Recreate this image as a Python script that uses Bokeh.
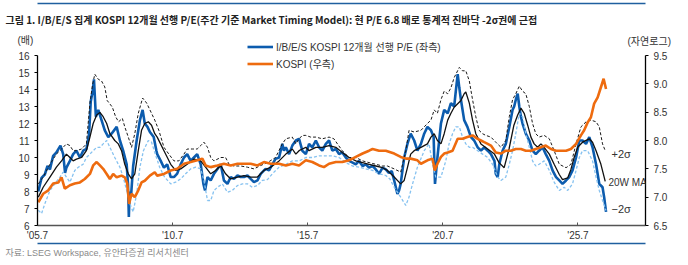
from bokeh.plotting import figure
from bokeh.models import (Range1d, LinearAxis, FixedTicker, PrintfTickFormatter,
                          Label, Legend, LegendItem)
from bokeh.embed import file_html
from bokeh.resources import INLINE

# Weekly-sampled I/B/E/S KOSPI 12M forward P/E (x), decimal years
pe_year = [2005.53, 2005.65, 2005.77, 2005.87, 2005.96, 2006.08, 2006.20, 2006.35, 2006.45, 2006.52,
           2006.57, 2006.70, 2006.82, 2006.94, 2007.07, 2007.19, 2007.31, 2007.41, 2007.47, 2007.54,
           2007.59, 2007.66, 2007.75, 2007.87, 2007.99, 2008.12, 2008.24, 2008.43, 2008.55, 2008.67,
           2008.80, 2008.85, 2008.88, 2008.91, 2008.96, 2009.04, 2009.17, 2009.29, 2009.39, 2009.47,
           2009.57, 2009.66, 2009.80, 2009.90, 2009.93, 2010.06, 2010.18, 2010.30, 2010.43, 2010.55,
           2010.67, 2010.80, 2010.92, 2011.04, 2011.17, 2011.29, 2011.41, 2011.54, 2011.64, 2011.70,
           2011.79, 2011.91, 2012.03, 2012.16, 2012.28, 2012.40, 2012.53, 2012.65, 2012.77, 2012.90,
           2013.02, 2013.14, 2013.27, 2013.39, 2013.51, 2013.64, 2013.76, 2013.94, 2014.07, 2014.19,
           2014.31, 2014.44, 2014.56, 2014.62, 2014.69, 2014.81, 2014.93, 2015.06, 2015.18, 2015.30,
           2015.43, 2015.55, 2015.67, 2015.80, 2015.92, 2016.04, 2016.17, 2016.29, 2016.41, 2016.54,
           2016.66, 2016.78, 2016.91, 2017.03, 2017.16, 2017.28, 2017.40, 2017.53, 2017.65, 2017.77,
           2017.90, 2018.02, 2018.14, 2018.27, 2018.39, 2018.50, 2018.61, 2018.70, 2018.82, 2018.88,
           2018.94, 2019.07, 2019.19, 2019.31, 2019.44, 2019.56, 2019.69, 2019.81, 2019.93, 2020.06,
           2020.16, 2020.21, 2020.30, 2020.43, 2020.55, 2020.68, 2020.80, 2020.92, 2020.98, 2021.05,
           2021.11, 2021.17, 2021.29, 2021.41, 2021.54, 2021.66, 2021.79, 2021.91, 2022.03, 2022.16,
           2022.28, 2022.41, 2022.46, 2022.53, 2022.59, 2022.71, 2022.83, 2022.96, 2023.08, 2023.14,
           2023.20, 2023.27, 2023.33, 2023.39, 2023.45, 2023.57, 2023.70, 2023.82, 2023.94, 2024.06,
           2024.19, 2024.31, 2024.44, 2024.56, 2024.69, 2024.81, 2024.93, 2025.06, 2025.18, 2025.30,
           2025.43, 2025.55, 2025.67, 2025.80, 2025.92, 2026.04, 2026.17, 2026.29, 2026.41, 2026.47,
           2026.54]
pe_val = [8.0, 8.8, 9.0, 9.5, 9.3, 10.1, 10.3, 10.7, 10.2, 9.1,
          9.4, 9.8, 10.2, 10.4, 10.0, 10.4, 10.5, 11.4, 13.3, 13.9,
          14.6, 12.4, 12.8, 12.2, 11.6, 11.2, 11.4, 11.8, 11.0, 10.4,
          9.6, 8.4, 6.5, 8.0, 7.7, 9.5, 11.0, 12.2, 12.8, 12.0,
          11.8, 11.5, 11.2, 10.4, 10.2, 9.8, 9.4, 9.6, 8.85, 8.85,
          9.05, 9.6, 10.0, 10.2, 9.8, 10.0, 10.2, 9.6, 8.45, 8.06,
          8.85, 8.65, 9.04, 9.33, 9.6, 8.65, 8.45, 8.85, 8.74, 8.94,
          8.85, 8.85, 8.94, 8.74, 8.55, 8.65, 9.04, 9.33, 9.24, 9.6,
          9.92, 10.0, 10.8, 10.4, 10.6, 10.2, 10.7, 11.0, 11.1, 10.4,
          10.2, 10.8, 10.6, 11.0, 10.6, 10.4, 10.8, 11.0, 10.4, 10.5,
          10.2, 10.3, 10.0, 9.8, 9.7, 9.6, 9.8, 9.5, 9.6, 9.4,
          9.5, 9.3, 9.04, 9.4, 9.3, 9.1, 9.2, 8.65, 7.86, 8.06,
          8.45, 10.0, 10.8, 11.4, 11.0, 10.4, 10.8, 11.4, 11.8, 11.6,
          11.2, 8.45, 10.0, 12.0, 12.8, 12.6, 13.2, 13.0, 13.9, 14.9,
          14.1, 13.4, 12.2, 11.8, 11.2, 11.0, 10.6, 10.4, 10.6, 10.4,
          10.2, 9.8, 9.04, 8.85, 9.6, 10.4, 10.8, 11.8, 12.8, 13.0,
          13.4, 13.75, 13.0, 12.4, 12.0, 11.4, 11.0, 10.4, 10.2, 10.4,
          10.6, 10.2, 9.8, 9.24, 8.85, 8.65, 8.45, 8.65, 8.85, 9.24,
          10.0, 11.0, 11.0, 10.8, 11.2, 10.6, 9.6, 8.45, 8.25, 7.67,
          6.8]

# 20-week moving average of the P/E
ma_year = [2005.53, 2005.71, 2005.96, 2006.20, 2006.39, 2006.57, 2006.70, 2006.82, 2006.94, 2007.13,
           2007.31, 2007.44, 2007.56, 2007.69, 2007.81, 2007.93, 2008.06, 2008.18, 2008.36, 2008.49,
           2008.61, 2008.73, 2008.86, 2008.98, 2009.10, 2009.23, 2009.35, 2009.47, 2009.60, 2009.72,
           2009.84, 2009.93, 2010.18, 2010.43, 2010.61, 2010.80, 2011.04, 2011.29, 2011.54, 2011.72,
           2011.91, 2012.09, 2012.28, 2012.46, 2012.65, 2012.90, 2013.14, 2013.39, 2013.64, 2013.88,
           2014.13, 2014.44, 2014.69, 2014.93, 2015.06, 2015.18, 2015.30, 2015.43, 2015.55, 2015.80,
           2016.04, 2016.29, 2016.54, 2016.78, 2017.03, 2017.28, 2017.53, 2017.77, 2018.02, 2018.27,
           2018.45, 2018.70, 2018.94, 2019.07, 2019.19, 2019.31, 2019.44, 2019.69, 2019.93, 2020.06,
           2020.18, 2020.30, 2020.43, 2020.55, 2020.68, 2020.80, 2020.92, 2021.17, 2021.29, 2021.35,
           2021.48, 2021.60, 2021.72, 2021.91, 2022.16, 2022.41, 2022.58, 2022.77, 2022.95, 2023.13,
           2023.27, 2023.39, 2023.51, 2023.64, 2023.76, 2023.88, 2024.01, 2024.13, 2024.25, 2024.44,
           2024.62, 2024.81, 2024.93, 2025.12, 2025.24, 2025.36, 2025.49, 2025.67, 2025.92, 2026.04,
           2026.17, 2026.35, 2026.51]
ma_val = [7.67, 8.25, 8.85, 9.43, 9.8, 10.2, 10.0, 9.8, 9.9, 10.0,
          10.4, 11.2, 12.0, 12.5, 12.65, 12.4, 12.0, 11.4, 11.0, 10.8,
          10.4, 9.6, 9.04, 8.74, 9.04, 10.4, 11.6, 12.0, 12.1, 11.9,
          11.4, 11.2, 10.4, 9.6, 9.24, 9.33, 9.6, 9.9, 9.8, 9.43,
          9.04, 9.24, 9.53, 9.04, 8.74, 8.85, 8.94, 8.85, 8.85, 9.24,
          9.43, 9.8, 10.2, 10.5, 10.2, 10.4, 10.5, 10.6, 10.4, 10.6,
          10.6, 10.7, 10.6, 10.3, 10.0, 9.8, 9.7, 9.6, 9.5, 9.4,
          9.24, 8.85, 8.45, 8.65, 9.4, 10.2, 10.4, 10.6, 10.8, 11.2,
          11.4, 11.0, 10.8, 11.4, 12.2, 12.6, 12.96, 13.35, 13.75, 13.85,
          13.2, 12.2, 11.4, 10.8, 10.5, 10.2, 9.7, 9.4, 10.5, 11.9,
          12.5, 12.9, 12.6, 11.9, 11.2, 10.8, 10.6, 10.8, 10.6, 10.2,
          9.6, 9.0, 8.7, 8.8, 9.3, 10.0, 10.6, 10.9, 11.1, 10.9,
          10.4, 9.6, 8.6]

# Upper band: 20W MA + 2 sigma
up_year = [2005.53, 2005.71, 2005.96, 2006.20, 2006.39, 2006.57, 2006.70, 2006.82, 2006.94, 2007.13,
           2007.31, 2007.44, 2007.54, 2007.62, 2007.75, 2007.87, 2007.99, 2008.08, 2008.13, 2008.27,
           2008.39, 2008.50, 2008.64, 2008.73, 2008.86, 2008.98, 2009.10, 2009.23, 2009.39, 2009.54,
           2009.72, 2009.84, 2009.99, 2010.18, 2010.36, 2010.55, 2010.73, 2010.92, 2011.04, 2011.23,
           2011.41, 2011.54, 2011.66, 2011.79, 2011.91, 2012.03, 2012.28, 2012.46, 2012.59, 2012.77,
           2013.02, 2013.27, 2013.51, 2013.76, 2014.01, 2014.31, 2014.56, 2014.69, 2014.93, 2015.06,
           2015.18, 2015.30, 2015.43, 2015.61, 2015.80, 2016.04, 2016.29, 2016.47, 2016.60, 2016.78,
           2017.03, 2017.28, 2017.53, 2017.77, 2018.02, 2018.27, 2018.45, 2018.70, 2018.94, 2019.13,
           2019.25, 2019.44, 2019.69, 2019.93, 2020.06, 2020.18, 2020.30, 2020.43, 2020.55, 2020.68,
           2020.80, 2020.92, 2021.11, 2021.23, 2021.35, 2021.48, 2021.60, 2021.72, 2021.84, 2021.97,
           2022.09, 2022.28, 2022.46, 2022.65, 2022.83, 2022.96, 2023.08, 2023.20, 2023.33, 2023.45,
           2023.57, 2023.70, 2023.82, 2023.94, 2024.06, 2024.25, 2024.44, 2024.62, 2024.81, 2025.06,
           2025.24, 2025.43, 2025.61, 2025.80, 2025.98, 2026.17, 2026.29, 2026.41, 2026.51]
up_val = [8.45, 8.85, 9.6, 10.2, 10.5, 10.8, 10.7, 10.4, 10.4, 10.5,
          10.8, 13.2, 14.3, 14.9, 14.6, 14.5, 14.15, 13.35, 13.25, 12.96,
          12.4, 12.1, 12.3, 11.8, 11.2, 10.6, 11.4, 12.6, 13.5, 13.2,
          12.6, 12.2, 11.6, 10.6, 10.2, 9.8, 9.8, 10.2, 10.5, 10.5,
          10.5, 10.7, 10.9, 10.6, 10.0, 9.8, 10.0, 10.0, 9.6, 9.5,
          9.5, 9.43, 9.33, 9.53, 9.7, 10.0, 10.8, 11.1, 11.2, 10.8,
          11.1, 11.3, 11.3, 11.2, 11.2, 11.1, 11.2, 11.1, 10.8, 10.4,
          10.0, 10.0, 9.8, 9.7, 9.6, 9.5, 9.5, 9.33, 9.14, 10.4,
          11.6, 11.5, 11.6, 12.0, 12.2, 12.8, 12.6, 13.4, 13.9, 13.75,
          14.1, 14.7, 15.3, 15.1, 15.1, 14.5, 13.4, 12.4, 11.6, 11.4,
          11.3, 11.2, 10.9, 10.6, 11.0, 12.4, 13.4, 13.75, 14.2, 13.9,
          13.75, 13.0, 12.0, 11.4, 11.2, 11.3, 11.1, 10.4, 9.6, 9.4,
          9.6, 10.8, 11.8, 12.1, 12.2, 12.1, 11.8, 10.8, 10.4]

# Lower band: 20W MA - 2 sigma
lo_year = [2005.53, 2005.65, 2005.77, 2005.96, 2006.14, 2006.33, 2006.45, 2006.57, 2006.70, 2006.88,
           2007.01, 2007.19, 2007.31, 2007.44, 2007.56, 2007.69, 2007.81, 2007.93, 2008.06, 2008.18,
           2008.36, 2008.55, 2008.67, 2008.80, 2008.92, 2009.04, 2009.17, 2009.29, 2009.42, 2009.60,
           2009.72, 2009.86, 2010.02, 2010.20, 2010.43, 2010.61, 2010.80, 2010.98, 2011.17, 2011.35,
           2011.54, 2011.66, 2011.79, 2011.91, 2012.03, 2012.16, 2012.34, 2012.53, 2012.71, 2012.90,
           2013.08, 2013.27, 2013.45, 2013.64, 2013.82, 2014.01, 2014.19, 2014.44, 2014.69, 2014.93,
           2015.18, 2015.43, 2015.67, 2015.92, 2016.17, 2016.41, 2016.66, 2016.91, 2017.16, 2017.40,
           2017.65, 2017.90, 2018.14, 2018.39, 2018.54, 2018.70, 2018.94, 2019.13, 2019.25, 2019.38,
           2019.56, 2019.81, 2019.99, 2020.12, 2020.24, 2020.43, 2020.61, 2020.73, 2020.86, 2020.98,
           2021.11, 2021.23, 2021.35, 2021.48, 2021.60, 2021.79, 2021.97, 2022.16, 2022.34, 2022.53,
           2022.65, 2022.83, 2022.96, 2023.08, 2023.20, 2023.33, 2023.45, 2023.57, 2023.70, 2023.82,
           2023.94, 2024.06, 2024.25, 2024.44, 2024.62, 2024.81, 2024.99, 2025.12, 2025.30, 2025.43,
           2025.55, 2025.67, 2025.86, 2026.04, 2026.17, 2026.29, 2026.41, 2026.54]
lo_val = [6.9, 6.7, 7.27, 8.06, 8.45, 8.85, 9.14, 8.85, 8.55, 9.24,
          9.43, 9.6, 10.0, 10.2, 10.4, 10.6, 10.6, 10.8, 11.0, 10.6,
          10.0, 9.43, 8.85, 8.06, 7.27, 6.8, 7.86, 9.43, 10.4, 11.0,
          10.9, 10.2, 9.43, 8.85, 8.45, 8.55, 8.74, 9.04, 9.33, 9.43,
          9.33, 8.65, 7.47, 7.47, 8.06, 8.25, 8.45, 7.96, 8.06, 8.35,
          8.45, 8.45, 8.25, 8.35, 8.65, 8.7, 9.04, 9.43, 9.6, 9.8,
          9.8, 10.0, 10.0, 10.1, 10.1, 10.1, 10.0, 9.7, 9.5, 9.43,
          9.33, 9.24, 9.04, 8.94, 8.74, 8.25, 7.67, 7.18, 7.67, 8.45,
          9.43, 10.4, 10.8, 9.6, 8.85, 8.85, 9.8, 10.8, 11.4, 11.8,
          11.8, 11.2, 10.8, 10.6, 10.6, 10.4, 10.2, 10.0, 9.6, 8.85,
          8.65, 8.85, 9.6, 10.4, 11.4, 12.6, 12.4, 11.4, 10.6, 9.8,
          9.5, 9.6, 9.8, 9.24, 8.55, 8.06, 8.25, 8.06, 8.45, 9.24,
          10.0, 10.4, 10.4, 9.8, 8.85, 8.06, 7.47, 6.88]

# KOSPI index, natural log (right axis)
kospi_year = [2005.53, 2005.71, 2005.90, 2006.08, 2006.27, 2006.39, 2006.51, 2006.70, 2006.88, 2007.07,
              2007.25, 2007.44, 2007.56, 2007.69, 2007.81, 2007.93, 2008.06, 2008.18, 2008.30, 2008.43,
              2008.61, 2008.73, 2008.82, 2008.89, 2008.98, 2009.10, 2009.23, 2009.35, 2009.47, 2009.66,
              2009.84, 2009.93, 2010.18, 2010.43, 2010.67, 2010.92, 2011.17, 2011.41, 2011.60, 2011.72,
              2011.91, 2012.16, 2012.40, 2012.65, 2012.90, 2013.14, 2013.39, 2013.64, 2013.88, 2014.13,
              2014.44, 2014.69, 2014.93, 2015.18, 2015.43, 2015.67, 2015.92, 2016.10, 2016.29, 2016.54,
              2016.78, 2017.03, 2017.28, 2017.53, 2017.77, 2017.90, 2018.14, 2018.39, 2018.70, 2018.94,
              2019.13, 2019.31, 2019.56, 2019.69, 2019.93, 2020.12, 2020.20, 2020.30, 2020.43, 2020.55,
              2020.68, 2020.86, 2021.05, 2021.23, 2021.41, 2021.60, 2021.79, 2021.91, 2022.03, 2022.16,
              2022.28, 2022.46, 2022.65, 2022.83, 2023.02, 2023.20, 2023.39, 2023.57, 2023.76, 2023.94,
              2024.13, 2024.31, 2024.50, 2024.69, 2024.87, 2025.06, 2025.24, 2025.43, 2025.61, 2025.73,
              2025.86, 2025.98, 2026.10, 2026.23, 2026.35, 2026.45, 2026.54]
kospi_val = [6.91, 7.06, 7.12, 7.24, 7.26, 7.35, 7.15, 7.21, 7.24, 7.26,
             7.32, 7.41, 7.56, 7.62, 7.56, 7.5, 7.41, 7.32, 7.41, 7.35,
             7.38, 7.35, 7.24, 6.88, 7.06, 7.0, 7.12, 7.26, 7.29, 7.38,
             7.44, 7.38, 7.41, 7.47, 7.5, 7.59, 7.62, 7.65, 7.68, 7.56,
             7.53, 7.56, 7.59, 7.56, 7.59, 7.59, 7.59, 7.56, 7.62, 7.59,
             7.59, 7.56, 7.59, 7.56, 7.65, 7.62, 7.56, 7.53, 7.59, 7.62,
             7.62, 7.65, 7.71, 7.77, 7.82, 7.85, 7.82, 7.82, 7.77, 7.71,
             7.68, 7.68, 7.65, 7.59, 7.65, 7.68, 7.47, 7.59, 7.71, 7.77,
             7.79, 7.82, 8.03, 8.03, 8.06, 8.09, 8.03, 8.0, 7.97, 7.94,
             7.91, 7.79, 7.77, 7.82, 7.82, 7.85, 7.85, 7.82, 7.82, 7.85,
             7.88, 7.91, 7.85, 7.82, 7.82, 7.82, 7.85, 7.94, 8.09, 8.18,
             8.32, 8.41, 8.65, 8.76, 8.94, 9.09, 8.91]

# Axis ticks
x_ticks = [2005.5, 2010.5, 2015.5, 2020.5, 2025.5]
x_tick_labels = ["'05.7", "'10.7", "'15.7", "'20.7", "'25.7"]
pe_ticks = list(range(6, 17))
log_ticks = [6.5, 7.0, 7.5, 8.0, 8.5, 9.0, 9.5]

W, H = 688, 265
# frame edges in canvas pixels; the frame reaches above the 16x gridline so the
# legend has room, while both value axes stop at their top tick
L, R, T, B = 37, 645, 40, 225
Y16_PX = 55
X0, X1 = 2005.5, 2028.0
PX_PER_YEAR = (R - L) / (X1 - X0)
PX_PER_PE = (B - Y16_PX) / (16 - 6)
PX_PER_LOG = (B - Y16_PX) / (9.5 - 6.5)

LATIN = "Liberation Sans"
MIXED = "Liberation Sans, Noto Sans CJK KR"
NARROW = "Liberation Sans Narrow, Noto Sans CJK KR"
TXT = "#333333"
RULE = "#1f5f9f"

p = figure(width=W, height=H, x_range=Range1d(X0, X1),
           y_range=Range1d(6, 16 + (Y16_PX - T) / PX_PER_PE),
           output_backend="svg", toolbar_location=None,
           min_border_left=L, min_border_right=W - R, min_border_top=T, min_border_bottom=H - B,
           x_axis_type=None, y_axis_type=None)
p.outline_line_color = None
p.background_fill_color = "white"
p.border_fill_color = "white"
p.extra_y_ranges = {"log": Range1d(6.5, 9.5 + (Y16_PX - T) / PX_PER_LOG)}

xaxis = LinearAxis(ticker=FixedTicker(ticks=x_ticks),
                   major_label_overrides=dict(zip(x_ticks, x_tick_labels)))
xaxis.axis_line_color = "#555555"
xaxis.axis_line_width = 1.5
xaxis.major_tick_in = 3
xaxis.major_tick_out = 0
xaxis.major_tick_line_color = "#555555"
xaxis.minor_tick_line_color = None
xaxis.major_label_text_font = LATIN
xaxis.major_label_text_font_size = "10px"
xaxis.major_label_text_color = TXT
xaxis.major_label_standoff = 4
p.add_layout(xaxis, "below")

yaxis = LinearAxis(ticker=FixedTicker(ticks=pe_ticks), bounds=(6, 16))
yaxis.axis_line_color = "black"
yaxis.axis_line_width = 1.3
yaxis.major_tick_in = 0
yaxis.major_tick_out = 3
yaxis.major_tick_line_color = "black"
yaxis.minor_tick_line_color = None
yaxis.major_label_text_font = LATIN
yaxis.major_label_text_font_size = "10px"
yaxis.major_label_text_color = TXT
yaxis.major_label_standoff = 5
p.add_layout(yaxis, "left")

raxis = LinearAxis(y_range_name="log", ticker=FixedTicker(ticks=log_ticks),
                   formatter=PrintfTickFormatter(format="%.1f"), bounds=(6.5, 9.5))
raxis.axis_line_color = "black"
raxis.axis_line_width = 1.3
raxis.major_tick_in = 0
raxis.major_tick_out = 3
raxis.major_tick_line_color = "black"
raxis.minor_tick_line_color = None
raxis.major_label_text_font = LATIN
raxis.major_label_text_font_size = "10px"
raxis.major_label_text_color = TXT
raxis.major_label_standoff = 5
p.add_layout(raxis, "right")

r_pe = p.line(pe_year, pe_val, line_color="#0c5cae", line_width=2.6)
r_lo = p.line(lo_year, lo_val, line_color="#86c2f0", line_width=1.3, line_dash="3 2")
r_up = p.line(up_year, up_val, line_color="#1a1a1a", line_width=1.0, line_dash="3 2")
r_ma = p.line(ma_year, ma_val, line_color="#111111", line_width=1.3)
r_k = p.line(kospi_year, kospi_val, line_color="#ee6b0f", line_width=2.6, y_range_name="log")

legend = Legend(items=[LegendItem(label="I/B/E/S KOSPI 12개월 선행 P/E (좌측)", renderers=[r_pe]),
                       LegendItem(label="KOSPI (우측)", renderers=[r_k])],
                location=(247 - L, B - 72), orientation="vertical",
                padding=0, margin=0, spacing=0, glyph_width=26, glyph_height=17,
                label_height=17, label_standoff=3,
                label_text_font=MIXED, label_text_font_size="10px", label_text_color=TXT,
                background_fill_alpha=0, border_line_color=None)
p.add_layout(legend, "center")


def px_x(px):
    return X0 + (px - L) / PX_PER_YEAR


def px_y(py):
    return 16 - (py - Y16_PX) / PX_PER_PE


def put(text, px, py, size, place="center", color=TXT, align="left", font=MIXED, **kw):
    lbl = Label(x=px_x(px), y=px_y(py), text=text, text_font=font,
                text_font_size=f"{size}px", text_color=color,
                text_align=align, text_baseline="middle", **kw)
    p.add_layout(lbl, place)
    return lbl


def rule_axis(place):
    # a bare axis line, no ticks or labels, used as a blue separator rule
    ax = LinearAxis(ticker=FixedTicker(ticks=[]))
    ax.axis_line_color = RULE
    ax.axis_line_width = 1.5
    ax.major_tick_line_color = None
    ax.minor_tick_line_color = None
    ax.major_tick_in = 0
    ax.major_tick_out = 0
    ax.major_label_standoff = 0
    ax.major_label_text_font_size = "0px"
    p.add_layout(ax, place)


# the separator under the date axis sits directly after it in the lower panel
rule_axis("below")

# headings and notes sit in the outer panels so they are not cut at the frame edge
put("그림 1. I/B/E/S 집계 KOSPI 12개월 선행 P/E(주간 기준 Market Timing Model): 현 P/E 6.8 배로 통계적 진바닥 -2σ권에 근접",
    5, 19, 10, place="above", font=NARROW, text_font_style="bold", color="#222222")
put("(배)", 17, 40, 10, place="above")
put("(자연로그)", 627, 41, 10, place="above")
put("자료: LSEG Workspace, 유안타증권 리서치센터", 5, 252, 9, place="below", color="#8a8a8a")

# top separator, outermost item of the upper panel
rule_axis("above")

put("+2σ", 611, 153, 11)
put("20W MA", 608, 182, 10)
put("−2σ", 611, 208, 11)

open("out.html", "w").write(file_html(p, INLINE))
